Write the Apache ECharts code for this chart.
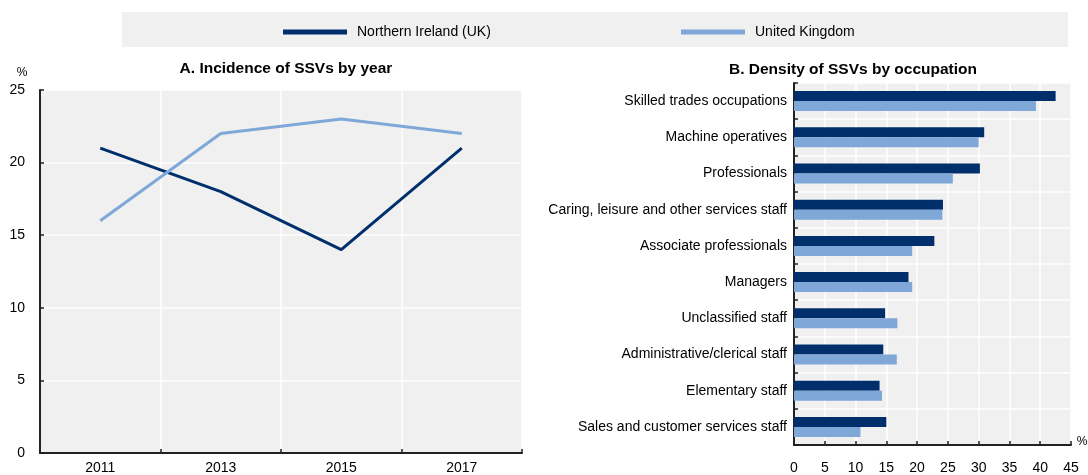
<!DOCTYPE html>
<html>
<head>
<meta charset="utf-8">
<script src="https://cdn.jsdelivr.net/npm/echarts@6/dist/echarts.min.js"></script>
<style>
html,body{margin:0;padding:0;background:#fff;}
#chart{width:1088px;height:475px;}
</style>
</head>
<body>
<div id="chart"></div>
<script>
var seriesNames = ['Northern Ireland (UK)', 'United Kingdom'];
var years = ['2011', '2013', '2015', '2017'];
var incidenceNI = [21, 18, 14, 21];
var incidenceUK = [16, 22, 23, 22];
var occupations = [
  'Skilled trades occupations',
  'Machine operatives',
  'Professionals',
  'Caring, leisure and other services staff',
  'Associate professionals',
  'Managers',
  'Unclassified staff',
  'Administrative/clerical staff',
  'Elementary staff',
  'Sales and customer services staff'
];
var densityNI = [42.5, 30.9, 30.2, 24.2, 22.8, 18.6, 14.8, 14.5, 13.9, 15.0];
var densityUK = [39.3, 30.0, 25.8, 24.1, 19.2, 19.2, 16.8, 16.7, 14.3, 10.8];
var leftTicks = {min: 0, max: 25, interval: 5};
var rightTicks = {min: 0, max: 45, interval: 5};

var FONT = '"Liberation Sans", Arial, sans-serif';
var DARK = '#002F6C';
var LIGHT = '#7FA7D8';
var AXIS = '#222';

var chart = echarts.init(document.getElementById('chart'), null, {renderer: 'canvas'});
var option = {
  animation: false,
  backgroundColor: '#ffffff',
  textStyle: {fontFamily: FONT},
  graphic: [
    {type: 'rect', shape: {x: 122, y: 12, width: 946, height: 35}, style: {fill: '#f0f0f0'}, z: -10},
    {type: 'text', style: {x: 286, y: 69, text: 'A. Incidence of SSVs by year', font: 'bold 15.5px ' + FONT, fill: '#000', textAlign: 'center', textVerticalAlign: 'middle'}},
    {type: 'text', style: {x: 853, y: 70, text: 'B. Density of SSVs by occupation', font: 'bold 15.5px ' + FONT, fill: '#000', textAlign: 'center', textVerticalAlign: 'middle'}},
    {type: 'text', style: {x: 22, y: 73, text: '%', font: '12px ' + FONT, fill: '#000', textAlign: 'center', textVerticalAlign: 'middle'}},
    {type: 'text', style: {x: 1082, y: 442, text: '%', font: '12px ' + FONT, fill: '#000', textAlign: 'center', textVerticalAlign: 'middle'}}
  ],
  legend: [
    {left: 278, top: 20, icon: 'rect', itemWidth: 64, itemHeight: 5, data: [seriesNames[0]],
      textStyle: {fontSize: 14, color: '#000', fontFamily: FONT, padding: [0, 0, 0, 5]}},
    {left: 676, top: 20, icon: 'rect', itemWidth: 64, itemHeight: 5, data: [seriesNames[1]],
      textStyle: {fontSize: 14, color: '#000', fontFamily: FONT, padding: [0, 0, 0, 5]}}
  ],
  grid: [
    {left: 40, right: 566, top: 90, bottom: 22, show: true, backgroundColor: '#f0f0f0', borderWidth: 0, containLabel: false},
    {left: 794, right: 17, top: 83, bottom: 29, show: true, backgroundColor: '#f0f0f0', borderWidth: 0, containLabel: false}
  ],
  xAxis: [
    {type: 'category', gridIndex: 0, data: years, boundaryGap: true,
      axisLine: {show: true, lineStyle: {color: AXIS, width: 2}},
      axisTick: {show: true, inside: true, length: 4, interval: 0, lineStyle: {color: AXIS, width: 1.5}},
      axisLabel: {fontSize: 14, color: '#000', margin: 8, fontFamily: FONT},
      splitLine: {show: true, interval: 0, lineStyle: {color: '#ffffff', width: 1.5}}},
    {type: 'value', gridIndex: 1, min: rightTicks.min, max: rightTicks.max, interval: rightTicks.interval,
      axisLine: {show: true, lineStyle: {color: AXIS, width: 2}},
      axisTick: {show: true, inside: true, length: 4, lineStyle: {color: AXIS, width: 1.5}},
      axisLabel: {fontSize: 14, color: '#000', margin: 16, fontFamily: FONT},
      splitLine: {show: true, lineStyle: {color: '#ffffff', width: 1.5}}}
  ],
  yAxis: [
    {type: 'value', gridIndex: 0, min: leftTicks.min, max: leftTicks.max, interval: leftTicks.interval,
      axisLine: {show: true, lineStyle: {color: AXIS, width: 2}},
      axisTick: {show: true, inside: true, length: 4, lineStyle: {color: AXIS, width: 1.5}},
      axisLabel: {fontSize: 14, color: '#000', margin: 15, fontFamily: FONT},
      splitLine: {show: true, lineStyle: {color: '#ffffff', width: 1.5}}},
    {type: 'category', gridIndex: 1, data: occupations, inverse: true,
      axisLine: {show: true, lineStyle: {color: AXIS, width: 2}},
      axisTick: {show: true, inside: true, length: 4, interval: 0, lineStyle: {color: AXIS, width: 1.5}},
      axisLabel: {fontSize: 14, color: '#000', margin: 7, fontFamily: FONT, interval: 0},
      splitLine: {show: true, interval: 0, lineStyle: {color: '#ffffff', width: 1.5}}}
  ],
  series: [
    {name: seriesNames[0], type: 'line', xAxisIndex: 0, yAxisIndex: 0, data: incidenceNI,
      symbol: 'none', lineStyle: {color: DARK, width: 3}, itemStyle: {color: DARK}},
    {name: seriesNames[1], type: 'line', xAxisIndex: 0, yAxisIndex: 0, data: incidenceUK,
      symbol: 'none', lineStyle: {color: LIGHT, width: 3}, itemStyle: {color: LIGHT}},
    {name: seriesNames[0], type: 'bar', xAxisIndex: 1, yAxisIndex: 1, data: densityNI,
      barWidth: 10, barGap: '0%', itemStyle: {color: DARK}},
    {name: seriesNames[1], type: 'bar', xAxisIndex: 1, yAxisIndex: 1, data: densityUK,
      barWidth: 10, barGap: '0%', itemStyle: {color: LIGHT}}
  ]
};
chart.setOption(option);
</script>
</body>
</html>
